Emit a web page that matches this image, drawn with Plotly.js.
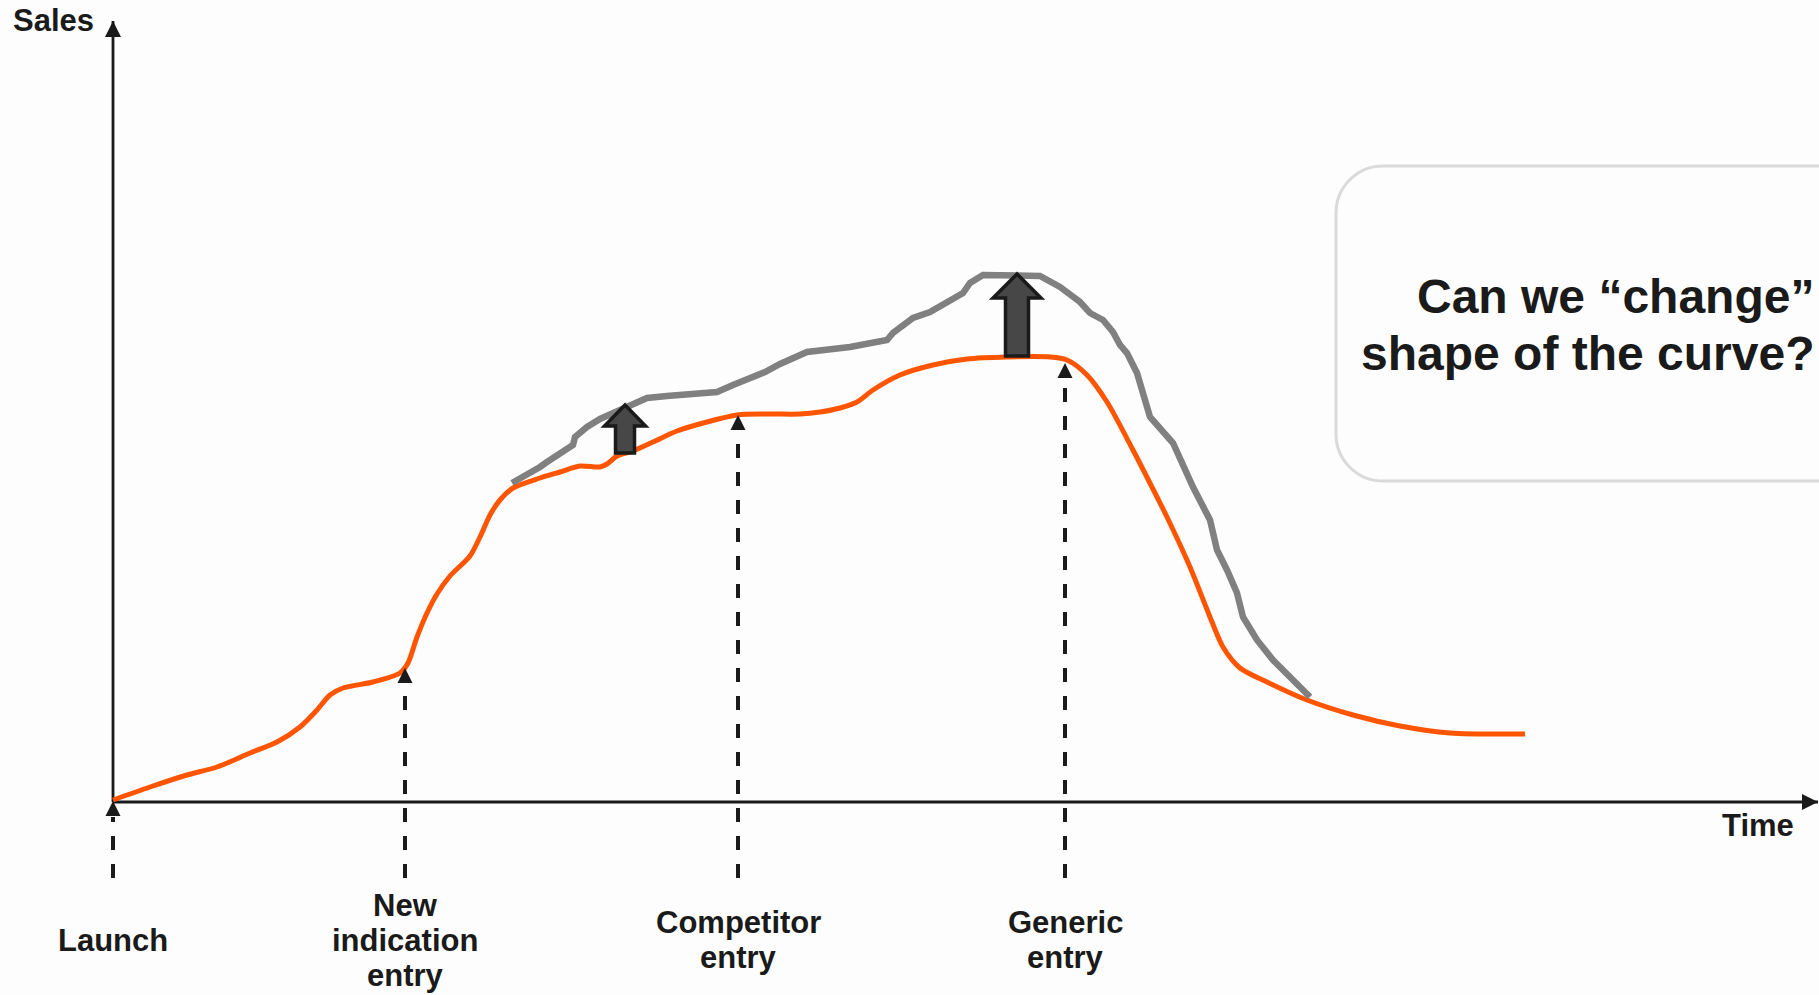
<!DOCTYPE html>
<html>
<head>
<meta charset="utf-8">
<script src="https://cdn.plot.ly/plotly-3.0.1.min.js"></script>
<style>
  html, body { margin: 0; padding: 0; background: #fdfdfd; }
  #chart { width: 1819px; height: 995px; }
</style>
</head>
<body>
<div id="chart"></div>
<script>
// Product life cycle: sales over time for the current curve and an extended curve.

// Current life-cycle curve
const baseTime = [0, 3.7, 7.4, 10.4, 13.7, 16.4, 18.7, 20.4, 21.7, 23.0, 26.0, 28.7, 29.5, 30.4,
  31.4, 32.4, 33.7, 35.7, 36.7, 37.7, 38.7, 40.0, 42.7, 44.7, 46.7, 48.7, 49.4, 50.4, 52.0, 54.0,
  56.4, 59.4, 62.4, 65.4, 68.7, 70.7, 72.7, 74.4, 76.0, 78.7, 82.0, 85.4, 89.4, 93.7, 95.4, 97.4,
  99.4, 102.0, 104.4, 105.4, 107.7, 109.7, 111.0, 112.7, 115.4, 119.4, 124.0, 128.7, 133.7, 141.2];
const baseSales = [0.2, 1.5, 2.7, 3.5, 4.9, 6.0, 7.5, 9.2, 10.7, 11.4, 12.0, 12.9, 13.9, 16.5,
  18.9, 20.8, 22.6, 24.6, 26.5, 28.7, 30.2, 31.4, 32.4, 33.0, 33.6, 33.5, 33.8, 34.6, 35.1, 36.0,
  37.1, 38.0, 38.7, 38.8, 38.8, 39.0, 39.4, 40.0, 41.2, 42.7, 43.7, 44.3, 44.5, 44.5, 44.2, 42.7,
  40.0, 35.2, 30.5, 28.5, 23.5, 18.5, 15.5, 13.4, 12.0, 10.2, 8.7, 7.6, 6.9, 6.8];

// Extended (lifted) curve
const liftedTime = [39.9, 41.4, 42.7, 43.4, 44.7, 46.0, 46.2, 47.4, 48.7, 50.0, 51.4, 53.4, 55.4,
  60.4, 62.0, 63.7, 65.2, 66.7, 68.7, 69.4, 73.7, 77.4, 78.0, 80.0, 81.7, 83.0, 85.0, 85.7, 87.0,
  92.7, 93.4, 94.7, 96.7, 97.7, 99.0, 100.0, 100.7, 101.4, 102.4, 103.2, 103.7, 106.0, 107.0, 108.0,
  109.7, 110.4, 111.4, 112.4, 113.0, 114.4, 116.0, 117.7, 119.7];
const liftedSales = [31.9, 32.7, 33.5, 34.0, 34.9, 35.7, 36.5, 37.5, 38.3, 38.9, 39.5, 40.4, 40.6,
  41.0, 41.7, 42.4, 43.0, 43.8, 44.7, 45.0, 45.5, 46.2, 46.9, 48.4, 49.0, 49.7, 50.9, 51.9, 52.7,
  52.6, 52.2, 51.5, 50.0, 48.9, 48.2, 47.0, 45.7, 44.9, 42.9, 40.2, 38.5, 35.9, 33.5, 31.5,
  28.2, 25.2, 23.2, 20.9, 18.5, 16.2, 14.2, 12.5, 10.5];

// Life-cycle events
const eventTime = [0, 29.2, 62.5, 95.2];
const eventSales = [0.1, 13.4, 38.7, 43.9];
const eventLabels = ["Launch", "New<br>indication<br>entry", "Competitor<br>entry", "Generic<br>entry"];

// Uplift arrows between the two curves
const liftTime = [51.2, 90.4];
const liftFrom = [34.9, 44.6];
const liftTo = [39.7, 52.8];

// Axis extents and titles
const timeMax = 170.5;
const salesMax = 78.1;
const axisTitles = { x: "Time", y: "Sales" };

// Callout text
const calloutLines = ["Can we \u201cchange\u201d", "shape of the curve?"];

// ---- drawing ----
const PX = 10;            // pixels per data unit on both axes
const INK = '#1a1a1a';
const FONT = 'Liberation Sans, Arial, sans-serif';
const labelFloor = -7.6;  // bottom end of the event guide lines
const px = v => v / PX;   // pixel length -> data length

const traces = [];

// axes with arrowheads
traces.push({ x: [0, timeMax], y: [0, 0], mode: 'lines', line: { color: INK, width: 2.8 }, hoverinfo: 'skip' });
traces.push({ x: [0, 0], y: [0, salesMax], mode: 'lines', line: { color: INK, width: 2.8 }, hoverinfo: 'skip' });
traces.push({ x: [timeMax], y: [0], mode: 'markers', marker: { symbol: 'arrow-right', size: 16, color: INK, line: { width: 0 } }, hoverinfo: 'skip' });
traces.push({ x: [0], y: [salesMax], mode: 'markers', marker: { symbol: 'arrow-up', size: 16, color: INK, line: { width: 0 } }, hoverinfo: 'skip' });

// dashed guide lines for each event
eventTime.forEach((t, i) => {
  traces.push({
    x: [t, t], y: [labelFloor, eventSales[i] - px(16)],
    mode: 'lines', line: { color: INK, width: 4, dash: '14px,14px' }, hoverinfo: 'skip'
  });
});

// curves
traces.push({ x: baseTime, y: baseSales, mode: 'lines', line: { color: '#ff5500', width: 5, shape: 'spline', smoothing: 0.8 }, hoverinfo: 'skip' });
traces.push({ x: liftedTime, y: liftedSales, mode: 'lines', line: { color: '#808080', width: 6.5 }, hoverinfo: 'skip' });

// event arrowheads
traces.push({ x: eventTime, y: eventSales, mode: 'markers', marker: { symbol: 'arrow-up', size: 15, color: INK, line: { width: 0 } }, hoverinfo: 'skip' });

// uplift block arrows
const liftStyle = [
  { shaft: px(9.5), head: px(20.5), headLen: px(21) },
  { shaft: px(11.5), head: px(24), headLen: px(24) }
];
const shapes = liftTime.map((t, i) => {
  const s = liftStyle[i], y0 = liftFrom[i], y1 = liftTo[i], yh = y1 - s.headLen;
  const path = `M${t - s.shaft},${y0} L${t - s.shaft},${yh} L${t - s.head},${yh} L${t},${y1} ` +
               `L${t + s.head},${yh} L${t + s.shaft},${yh} L${t + s.shaft},${y0} Z`;
  return { type: 'path', xref: 'x', yref: 'y', path, fillcolor: '#474747', line: { color: INK, width: 3.5 }, layer: 'above' };
});

// rounded callout frame, open past the right edge
const box = { left: 122.3, top: 63.6, bottom: 32.1, right: 190, r: px(47) };
const k = box.r * 0.552;
shapes.push({
  type: 'path', xref: 'x', yref: 'y', layer: 'below',
  path: `M${box.right},${box.top} H${box.left + box.r} ` +
        `C${box.left + box.r - k},${box.top} ${box.left},${box.top - box.r + k} ${box.left},${box.top - box.r} ` +
        `V${box.bottom + box.r} ` +
        `C${box.left},${box.bottom + box.r - k} ${box.left + box.r - k},${box.bottom} ${box.left + box.r},${box.bottom} ` +
        `H${box.right}`,
  line: { color: '#dadada', width: 3 }, fillcolor: 'rgba(0,0,0,0)'
});

// text
const annotations = [];
const txt = (text, x, y, size, extra) => Object.assign({
  text, x, y, xref: 'x', yref: 'y', showarrow: false, xanchor: 'center', yanchor: 'middle',
  font: { family: FONT, size, color: INK, weight: 'bold' }
}, extra || {});

annotations.push(txt(`<b>${axisTitles.y}</b>`, -6.0, 78.2, 31));
annotations.push(txt(`<b>${axisTitles.x}</b>`, 164.5, -2.3, 31));

const labelCenter = -13.8, lineGap = px(35);
eventLabels.forEach((lab, i) => {
  const lines = lab.split('<br>');
  lines.forEach((ln, j) => {
    const y = labelCenter - (j - (lines.length - 1) / 2) * lineGap;
    annotations.push(txt(`<b>${ln}</b>`, eventTime[i], y, 31));
  });
});

const calloutY = [50.6, 44.9];
calloutLines.forEach((ln, j) => {
  annotations.push(txt(`<b>${ln}</b>`, 170.6, calloutY[j], 48, { xanchor: 'right', xshift: -3 }));
});

const layout = {
  width: 1819, height: 995,
  margin: { l: 0, r: 0, t: 0, b: 0, pad: 0 },
  paper_bgcolor: '#fdfdfd', plot_bgcolor: '#fdfdfd',
  xaxis: { range: [-11.3, 170.6], visible: false, fixedrange: true },
  yaxis: { range: [-19.3, 80.2], visible: false, fixedrange: true },
  showlegend: false,
  shapes, annotations
};

Plotly.newPlot('chart', traces, layout, { displayModeBar: false, staticPlot: true });
</script>
</body>
</html>
